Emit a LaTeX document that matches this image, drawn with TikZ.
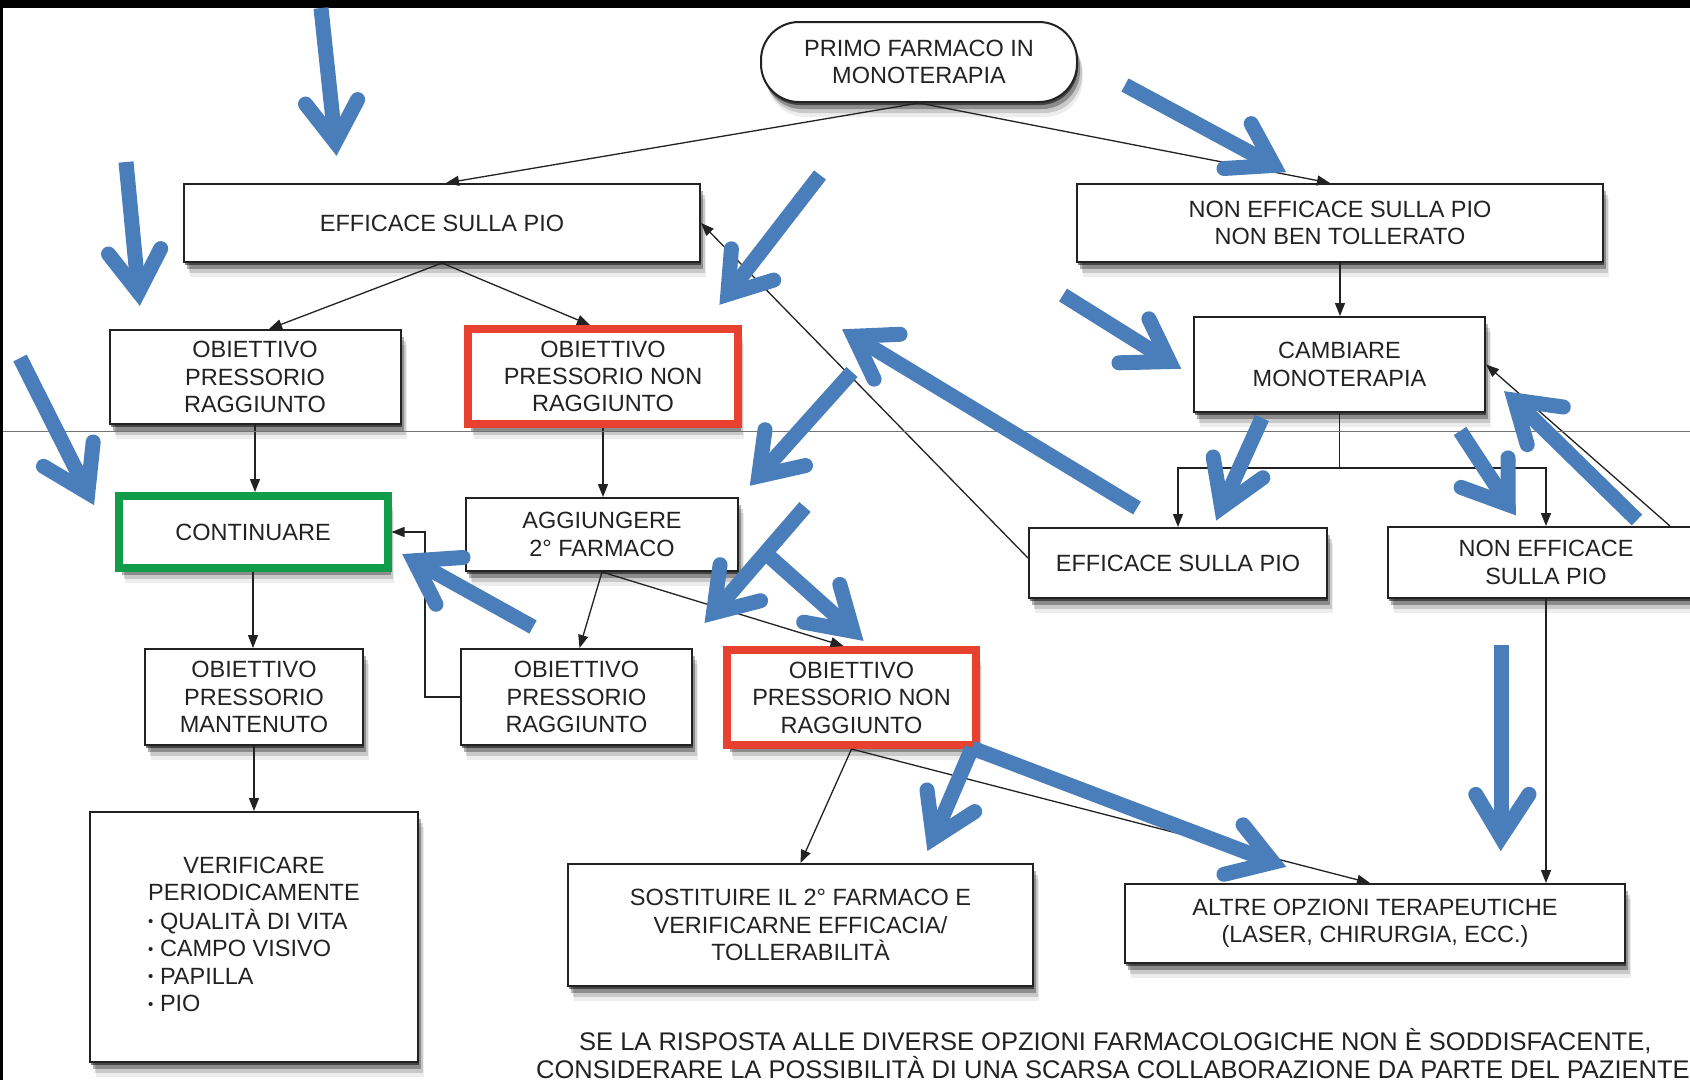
\documentclass[tikz,border=0pt]{standalone}
\usepackage{fontspec}
\setmainfont{Liberation Sans}
\usetikzlibrary{arrows.meta,shadows,calc}
\definecolor{bluemark}{HTML}{4A7EBB}
\definecolor{redbox}{HTML}{E8412F}
\definecolor{greenbox}{HTML}{109C48}
\definecolor{ink}{HTML}{222222}
\newcommand\boxfont{\fontsize{23.5}{27.4}\selectfont}
\newcommand\notefont{\fontsize{25.5}{28}\selectfont}
\newcommand\smallbul{{\fontsize{15}{15}\selectfont\raisebox{2.5pt}{•}}}
% blue annotation arrow: tail, tip, arm1, arm2
\newcommand\bluearr[4]{%
  \draw[bluemark, line width=15pt, line cap=butt] (#1) -- ($(#2)!16pt!(#1)$);
  \draw[bluemark, line width=15pt, line cap=round, line join=miter, miter limit=10]
    ($(#3)!7pt!(#2)$) -- ($(#2)!16pt!(#1)$) -- ($(#4)!7pt!(#2)$);
}
\begin{document}
\begin{tikzpicture}[x=1pt,y=-1pt,
  shad/.style={
    drop shadow={shadow xshift=1pt,shadow yshift=-3pt,opacity=.5,fill=black},
    drop shadow={shadow xshift=3pt,shadow yshift=-7pt,opacity=.3,fill=black},
    drop shadow={shadow xshift=5pt,shadow yshift=-11pt,opacity=.15,fill=black},
    drop shadow={shadow xshift=6pt,shadow yshift=-15pt,opacity=.07,fill=black}},
  box/.style={draw=ink, line width=2pt, fill=white, align=center, inner sep=0pt,
    font=\boxfont, text=ink, shad},
  redb/.style={box, draw=redbox, line width=8pt},
  greenb/.style={box, draw=greenbox, line width=8pt},
  conn/.style={draw=ink, line width=1.3pt, -{Triangle[length=13pt,width=10pt]}},
  note/.style={font=\notefont, text=ink, inner sep=0pt, anchor=base west}]
\useasboundingbox (0,0) rectangle (1690,1080);
\clip (0,0) rectangle (1690,1080);
\fill[white] (0,0) rectangle (1690,1080);

% nodes
\node[box, rounded corners=38pt, minimum width=316pt, minimum height=80pt] (primo) at (919,62) {PRIMO FARMACO IN\\MONOTERAPIA};
\node[box, minimum width=516pt, minimum height=78pt] (eff1) at (442,223) {EFFICACE SULLA PIO};
\node[box, minimum width=526pt, minimum height=78pt] (noneff) at (1340,223) {NON EFFICACE SULLA PIO\\NON BEN TOLLERATO};
\node[box, minimum width=291pt, minimum height=94pt] (opr1) at (255,377) {OBIETTIVO\\PRESSORIO\\RAGGIUNTO};
\node[redb, minimum width=270pt, minimum height=95pt] (opnr1) at (603,376.5) {OBIETTIVO\\PRESSORIO NON\\RAGGIUNTO};
\node[box, minimum width=291pt, minimum height=95pt] (camb) at (1339.5,364.5) {CAMBIARE\\MONOTERAPIA};
\node[greenb, minimum width=269pt, minimum height=72pt] (cont) at (253,532) {CONTINUARE};
\node[box, minimum width=272pt, minimum height=73pt] (agg) at (602,534.5) {AGGIUNGERE\\2° FARMACO};
\node[box, minimum width=298pt, minimum height=70pt] (eff2) at (1178,563) {EFFICACE SULLA PIO};
\node[box, minimum width=316pt, minimum height=71pt] (noneff2) at (1546,562.5) {NON EFFICACE\\SULLA PIO};
\node[box, minimum width=218pt, minimum height=96pt] (opm) at (254,697) {OBIETTIVO\\PRESSORIO\\MANTENUTO};
\node[box, minimum width=231pt, minimum height=96pt] (opr2) at (576.5,697) {OBIETTIVO\\PRESSORIO\\RAGGIUNTO};
\node[redb, minimum width=249pt, minimum height=95pt] (opnr2) at (851.5,697.5) {OBIETTIVO\\PRESSORIO NON\\RAGGIUNTO};
\node[box, minimum width=328pt, minimum height=250pt] (verif) at (254,937) {%
  \begin{tabular}{@{}l@{}}
  \multicolumn{1}{@{}c@{}}{VERIFICARE}\\
  PERIODICAMENTE\\
  \smallbul\ QUALITÀ DI VITA\\
  \smallbul\ CAMPO VISIVO\\
  \smallbul\ PAPILLA\\
  \smallbul\ PIO
  \end{tabular}};
\node[box, minimum width=465pt, minimum height=122pt] (sost) at (800.5,925) {SOSTITUIRE IL 2° FARMACO E\\VERIFICARNE EFFICACIA/\\TOLLERABILITÀ};
\node[box, minimum width=500pt, minimum height=79pt] (altre) at (1375,923.5) {ALTRE OPZIONI TERAPEUTICHE\\(LASER, CHIRURGIA, ECC.)};

\node[note] (note1) at (579,1050) {SE LA RISPOSTA ALLE DIVERSE OPZIONI FARMACOLOGICHE NON È SODDISFACENTE,};
\node[note] (note2) at (536,1078) {CONSIDERARE LA POSSIBILITÀ DI UNA SCARSA COLLABORAZIONE DA PARTE DEL PAZIENTE};

% connectors
\draw[conn] (primo.south) -- ([xshift=4pt]eff1.north);
\draw[conn] (primo.south) -- ([xshift=-10pt]noneff.north);
\draw[conn] (eff1.south) -- ([xshift=14pt]opr1.north);
\draw[conn] (eff1.south) -- ([xshift=-13pt]opnr1.north);
\draw[conn] (opr1.south) -- (opr1.south |- cont.north);
\draw[conn] (opnr1.south) -- (opnr1.south |- agg.north);
\draw[conn] (cont.south) -- (cont.south |- opm.north);
\draw[conn] (opm.south) -- (opm.south |- verif.north);
\draw[conn] (agg.south) -- ([xshift=3pt]opr2.north);
\draw[conn] (agg.south) -- ([xshift=-8pt]opnr2.north);
\draw[conn] (opr2.west) -- ++(-35,0) |- (cont.east);
\draw[conn] (opnr2.south) -- (sost.north);
\draw[conn] (opnr2.south) -- ([xshift=-5pt]altre.north);
\draw[conn] (noneff.south) -- (noneff.south |- camb.north);
\draw[conn] (camb.south) -- ++(0,55) -| (eff2.north);
\draw[conn] (camb.south) -- ++(0,55) -| (noneff2.north);
\draw[conn] ([yshift=5pt]eff2.west) -- (eff1.east);
\coordinate (ne2c) at ([xshift=124pt]noneff2.north);
\draw[conn] (ne2c) -- (camb.east);
\draw[conn] (noneff2.south) -- (noneff2.south |- altre.north);

% page artefacts
\draw[black!55, line width=1pt] (3,431) -- (1690,431);
\fill[black] (0,0) rectangle (1690,8);
\fill[black] (0,0) rectangle (3,1080);

% blue annotation arrows
\bluearr{321,8}{337,158}{302,98}{360,93}
\bluearr{126,162}{140,308}{105,248}{163,242}
\bluearr{20,358}{95,507}{38,462}{93,435}
\bluearr{820,175}{718,307}{733,242}{780,277}
\bluearr{1125,85}{1288,173}{1247,118}{1217,168}
\bluearr{1063,295}{1183,370}{1145,313}{1112,362}
\bluearr{1137,508}{840,328}{907,335}{878,385}
\bluearr{852,372}{748,488}{767,423}{812,463}
\bluearr{805,507}{703,625}{722,558}{767,598}
\bluearr{770,557}{865,642}{797,620}{837,578}
\bluearr{533,627}{400,553}{440,610}{470,558}
\bluearr{1262,418}{1215,522}{1213,450}{1268,473}
\bluearr{1460,431}{1517,518}{1455,484}{1507,451}
\bluearr{1637,520}{1503,389}{1530,451}{1570,409}
\bluearr{1501,645}{1501,853}{1473,788}{1532,788}
\bluearr{972,748}{927,853}{927,783}{980,807}
\bluearr{972,748}{1288,868}{1238,820}{1217,875}
\end{tikzpicture}
\end{document}
